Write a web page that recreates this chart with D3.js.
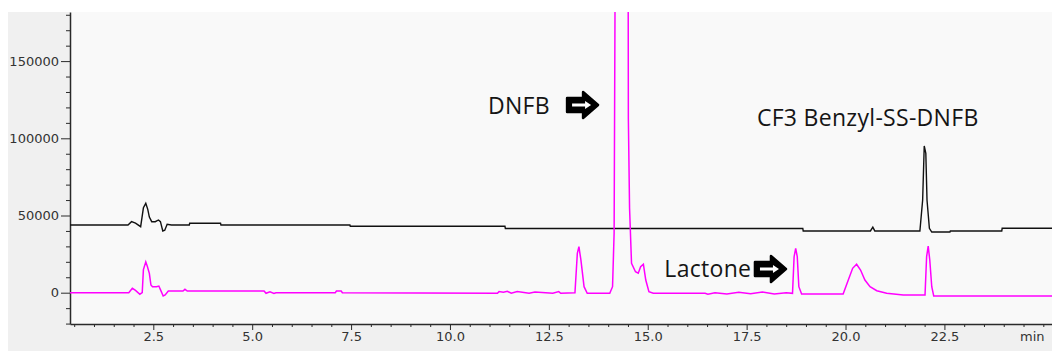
<!DOCTYPE html>
<html>
<head>
<meta charset="utf-8">
<script src="https://cdn.jsdelivr.net/npm/d3@7"></script>
<style>
  body { margin: 0; background: #fff; }
  svg { display: block; }
  .axis text { font-family: 'DejaVu Sans', sans-serif; font-size: 13px; fill: #333; }
  .axis line, .axis path { stroke: #2a2a2a; }
  .note { font-family: 'Open Sans', sans-serif; font-size: 23px; letter-spacing: 0.3px; fill: #151515; }
</style>
</head>
<body>
<svg id="chart" width="1052" height="351"></svg>
<script>
// retention time (min), signal
const blackTrace = [
  [0.39, 43850], [1.86, 43850], [1.95, 46000], [2.05, 45000], [2.18, 42750], [2.25, 55000],
  [2.31, 57900], [2.36, 54000], [2.40, 49000], [2.46, 46000], [2.55, 46000], [2.63, 47100],
  [2.68, 46000], [2.74, 40000], [2.79, 40500], [2.85, 44300], [2.96, 43850], [3.41, 43850],
  [3.42, 44950], [4.20, 44950], [4.21, 43850], [7.47, 43850], [7.48, 43000], [11.39, 43000],
  [11.40, 41600], [18.92, 41600], [18.93, 40000], [20.63, 40000], [20.69, 42500], [20.74, 40000],
  [21.88, 40000], [21.95, 60000], [21.99, 95000], [22.03, 90300], [22.06, 60000], [22.12, 41700],
  [22.18, 39300], [22.64, 39300], [22.65, 40000], [23.95, 40000], [23.96, 41700], [25.22, 41700]
];

const pinkTrace = [
  [0.39, 0], [1.88, 0], [1.97, 2850], [2.05, 1500], [2.16, -1000], [2.22, 0], [2.25, 15000],
  [2.31, 20000], [2.35, 17000], [2.40, 12500], [2.44, 5000], [2.48, 3900], [2.58, 3900],
  [2.64, 4300], [2.68, 2000], [2.75, -2100], [2.80, -1500], [2.88, 1100], [3.25, 1100],
  [3.30, 2200], [3.36, 1100], [5.30, 1100], [5.35, -400], [5.45, 600], [5.55, -500], [5.60, 0],
  [7.10, 0], [7.13, 1100], [7.25, 1100], [7.28, 0], [11.20, -400], [11.24, 700], [11.35, 300],
  [11.45, 900], [11.55, -300], [11.70, 800], [12.00, -300], [12.15, 500], [12.60, -300],
  [12.75, 700], [12.80, -400], [13.16, 0], [13.22, 25500], [13.26, 29800], [13.31, 21200],
  [13.39, 3900], [13.47, -400], [14.04, -400], [14.11, 3900], [14.15, 38600], [14.19, 300000],
  [14.34, 700000], [14.50, 300000], [14.51, 112900], [14.54, 55000], [14.59, 19000],
  [14.69, 13600], [14.76, 12600], [14.82, 16800], [14.89, 18400], [14.95, 8200], [15.03, 650],
  [15.14, -400], [16.45, -400], [16.52, -1000], [16.70, 0], [17.00, -800], [17.30, 300],
  [17.60, -600], [17.90, 500], [18.20, -800], [18.50, 0], [18.66, -400], [18.70, 23300],
  [18.74, 28700], [18.78, 23300], [18.82, 3900], [18.89, -850], [19.94, -850], [20.07, 8200],
  [20.18, 15800], [20.28, 18400], [20.38, 14700], [20.49, 8200], [20.62, 3900], [20.79, 1300],
  [21.04, -400], [21.46, -1500], [22.01, -1500], [22.05, 23300], [22.09, 30200], [22.13, 21200],
  [22.18, 3900], [22.23, -2100], [25.22, -2100]
];

const xMajorTicks = [2.5, 5.0, 7.5, 10.0, 12.5, 15.0, 17.5, 20.0, 22.5];
const yMajorTicks = [0, 50000, 100000, 150000];
const xUnit = 'min';

// labels: text, time, signal (baseline-left anchor)
const noteLabels = ['DNFB', 'CF3 Benzyl-SS-DNFB', 'Lactone'];
const noteTimes = [10.96, 17.76, 15.42];
const noteSignals = [115800, 108000, 10200];
// arrows: left time, centre signal
const arrowTimes = [12.91, 17.66];
const arrowSignals = [121600, 15350];

const W = 1052, H = 351;
const margin = { top: 12, left: 70, bottom: 27 };

const svg = d3.select('#chart');

const x = d3.scaleLinear().domain([0.394, 25.22]).range([margin.left, W]);
const y = d3.scaleLinear().domain([-20270, 181800]).range([H - margin.bottom, margin.top]);

// frame backgrounds
svg.append('rect').attr('x', 8).attr('y', 12).attr('width', W - 8).attr('height', H - 12)
  .attr('fill', '#f0f0f0');
svg.append('rect').attr('x', margin.left).attr('y', margin.top)
  .attr('width', W - margin.left).attr('height', H - margin.bottom - margin.top)
  .attr('fill', '#f9f9f9');

svg.append('defs').append('clipPath').attr('id', 'plotClip')
  .append('rect')
  .attr('x', margin.left).attr('y', margin.top)
  .attr('width', W - margin.left).attr('height', H - margin.bottom - margin.top);

// minor ticks
const xMinor = d3.range(0.5, 25.01, 0.5).filter((d) => !xMajorTicks.includes(d));
const yMinor = d3.range(-20000, 180001, 10000).filter((d) => !yMajorTicks.includes(d));

svg.append('g')
  .attr('class', 'axis')
  .attr('transform', `translate(0,${H - margin.bottom})`)
  .call(d3.axisBottom(x).tickValues(xMinor).tickSize(3).tickSizeOuter(0).tickFormat(''))
  .call((g) => g.select('.domain').remove());

svg.append('g')
  .attr('class', 'axis')
  .attr('transform', `translate(${margin.left},0)`)
  .call(d3.axisLeft(y).tickValues(yMinor).tickSize(4).tickSizeOuter(0).tickFormat(''))
  .call((g) => g.select('.domain').remove());

const xAxis = svg.append('g')
  .attr('class', 'axis')
  .attr('transform', `translate(0,${H - margin.bottom})`)
  .call(d3.axisBottom(x).tickValues(xMajorTicks).tickSize(6).tickPadding(2)
    .tickSizeOuter(0).tickFormat(d3.format('.1f')));
xAxis.select('.domain').attr('stroke-width', 1.5);

const yAxis = svg.append('g')
  .attr('class', 'axis')
  .attr('transform', `translate(${margin.left},0)`)
  .call(d3.axisLeft(y).tickValues(yMajorTicks).tickSize(9).tickPadding(2)
    .tickSizeOuter(0).tickFormat(d3.format('d')));
yAxis.select('.domain').attr('stroke-width', 1.5);

svg.append('text')
  .attr('x', 1020)
  .attr('y', H - margin.bottom + 8)
  .attr('dy', '0.71em')
  .style('font-family', "'DejaVu Sans', sans-serif")
  .style('font-size', '13px')
  .attr('fill', '#333')
  .text(xUnit);

// traces
const line = d3.line()
  .x((d) => x(d[0]))
  .y((d) => y(d[1]));

const traces = svg.append('g').attr('clip-path', 'url(#plotClip)');

traces.append('path')
  .datum(blackTrace)
  .attr('fill', 'none')
  .attr('stroke', '#111')
  .attr('stroke-width', 1.4)
  .attr('d', line);

traces.append('path')
  .datum(pinkTrace)
  .attr('fill', 'none')
  .attr('stroke', '#ff00ff')
  .attr('stroke-width', 1.5)
  .attr('d', line);

// annotations
svg.selectAll('.note')
  .data(noteLabels)
  .enter().append('text')
  .attr('class', 'note')
  .attr('x', (d, i) => x(noteTimes[i]))
  .attr('y', (d, i) => y(noteSignals[i]))
  .text((d) => d);

const arrow = svg.selectAll('.arrow')
  .data(arrowTimes)
  .enter().append('g')
  .attr('class', 'arrow')
  .attr('transform', (d, i) => `translate(${x(d)},${y(arrowSignals[i]) - 14})`);

arrow.append('path')
  .attr('d', 'M2,7 L18,7 L18,1 L33,14 L18,27 L18,21 L2,21 Z')
  .attr('fill', '#000')
  .attr('stroke', '#000')
  .attr('stroke-width', 2.5)
  .attr('stroke-linejoin', 'round');

arrow.append('path')
  .attr('d', 'M7,12.5 L20,12.5 L20,10 L26,14 L20,18 L20,15.5 L7,15.5 Z')
  .attr('fill', '#fff');
</script>
</body>
</html>
